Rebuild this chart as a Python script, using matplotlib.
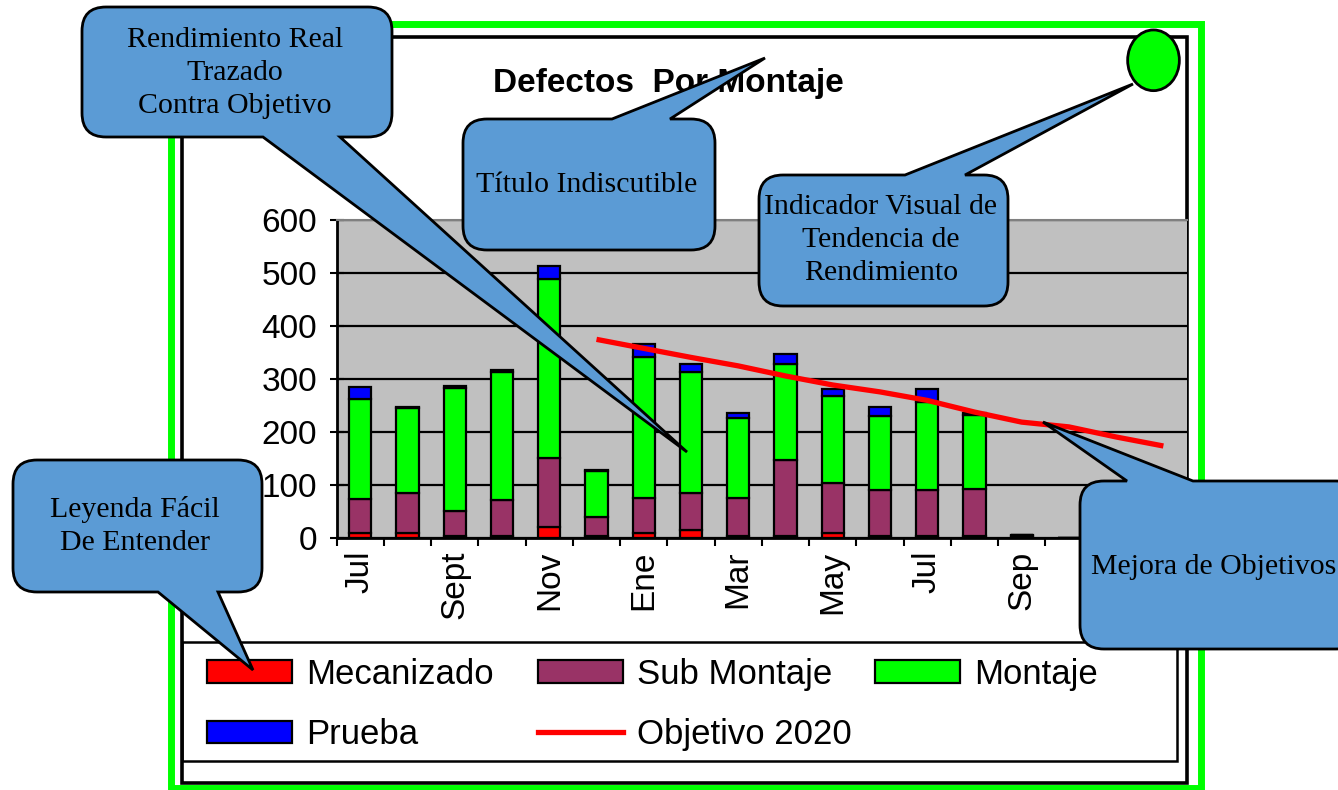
import numpy as np
import matplotlib
matplotlib.use("Agg")
import matplotlib.pyplot as plt
from matplotlib.path import Path
from matplotlib.patches import PathPatch, Rectangle, Ellipse, Patch
from matplotlib.lines import Line2D
from matplotlib.transforms import Affine2D

plt.rcParams['font.family'] = ['Liberation Sans', 'DejaVu Sans']

# ---------------- data ----------------
months = ['Jul', 'Ago', 'Sept', 'Oct', 'Nov', 'Dic', 'Ene', 'Feb', 'Mar', 'Abr',
          'May', 'Jun', 'Jul', 'Ago', 'Sep', 'Oct', 'Nov', 'Dic']
mecanizado = [10, 10, 5, 5, 21, 5, 10, 15, 5, 5, 10, 5, 5, 5, 4, 0, 0, 0]
sub_montaje = [65, 75, 46, 67, 131, 36, 66, 70, 71, 142, 95, 86, 86, 87, 2, 0, 0, 0]
montaje = [187, 161, 233, 242, 336, 85, 266, 229, 151, 181, 163, 140, 166, 140, 1, 0, 0, 0]
prueba = [23, 2, 3, 4, 25, 2, 25, 14, 10, 20, 14, 16, 25, 5, 0, 0, 0, 0]
objetivo = [np.nan, np.nan, np.nan, np.nan, np.nan, 375, 358, 341, 325, 306, 289,
            276, 260, 238, 219, 210, 191, 174]
y_ticks = [0, 100, 200, 300, 400, 500, 600]
shown_label_idx = [0, 2, 4, 6, 8, 10, 12, 14]

series_names = ['Mecanizado', 'Sub Montaje', 'Montaje', 'Prueba']
series_colors = ['#FF0000', '#993366', '#00FF00', '#0000FF']

W, H = 1338, 790
fig = plt.figure(figsize=(W / 100, H / 100), dpi=100)
fig.patch.set_facecolor('white')
PX = Affine2D().scale(1 / 100, -1 / 100).translate(0, H / 100) + fig.dpi_scale_trans

# frames
fig.add_artist(Rectangle((171, 23.5), 1029.5, 764.5, transform=PX, fill=False,
                         edgecolor='#00FF00', lw=5, zorder=-2))
fig.add_artist(Rectangle((182, 37), 1005, 746, transform=PX, fill=False,
                         edgecolor='black', lw=2.6, zorder=-1))
fig.add_artist(Rectangle((182, 642), 995, 119, transform=PX, fill=False,
                         edgecolor='black', lw=1.8, zorder=1))

# ---------------- axes ----------------
ax = fig.add_axes([336.7 / W, 1 - 538.3 / H, (1187 - 336.7) / W, (538.3 - 220) / H])
ax.set_facecolor('#C0C0C0')
x = np.arange(len(months))
bottom = np.zeros(len(months))
for vals, col in zip([mecanizado, sub_montaje, montaje, prueba], series_colors):
    v = np.array(vals, dtype=float)
    ax.bar(x, v, width=0.47, bottom=bottom, color=col, edgecolor='black',
           linewidth=1.6, zorder=3)
    bottom += v
ax.plot(x, objetivo, color='#FF0000', lw=3.8, zorder=4, solid_capstyle='butt')

ax.set_xlim(-0.5, len(months) - 0.5)
ax.set_ylim(0, 600)
ax.set_yticks(y_ticks)
ax.yaxis.grid(True, color='black', lw=1.6, zorder=1)
ax.set_axisbelow(True)
ax.tick_params(axis='y', direction='inout', length=10, width=1.5, pad=9,
               labelsize=24, colors='black')
ax.set_xticks(np.arange(-0.5, len(months), 1.0))
ax.set_xticklabels([])
ax.tick_params(axis='x', which='major', direction='out', length=6, width=1.5)
ax.set_xticks([x[i] for i in shown_label_idx], minor=True)
ax.set_xticklabels([months[i] for i in shown_label_idx], minor=True, rotation=90)
ax.tick_params(axis='x', which='minor', length=0, pad=9, labelsize=24)
for s in ['left', 'bottom']:
    ax.spines[s].set_color('black')
    ax.spines[s].set_linewidth(2)
ax.spines['top'].set_color('#808080')
ax.spines['top'].set_linewidth(1.5)
ax.spines['right'].set_visible(False)

# title
fig.text(668 / W, 1 - 91.7 / H, 'Defectos  Por Montaje', ha='center', va='baseline',
         fontsize=24, fontweight='bold', zorder=3)

# ---------------- legend ----------------
hnd = [Patch(facecolor=c, edgecolor='black', lw=1.6) for c in series_colors]
hline = Line2D([], [], color='#FF0000', lw=3.8)
leg_kw = dict(loc='upper left', frameon=False, borderpad=0, borderaxespad=0,
              handlelength=2.45, handleheight=0.63, handletextpad=0.4,
              labelspacing=0.78, fontsize=25)
top_y = 1 - 658 / H
fig.legend([hnd[0], hnd[3]], [series_names[0], series_names[3]],
           bbox_to_anchor=(207 / W, top_y), **leg_kw)
fig.legend([hnd[1], hline], [series_names[1], 'Objetivo 2020'],
           bbox_to_anchor=(538 / W, top_y), **leg_kw)
fig.legend([hnd[2]], [series_names[2]],
           bbox_to_anchor=(875 / W, top_y), **leg_kw)


# ---------------- callouts ----------------
def callout_path(x0, y0, x1, y1, r, side, b0, b1, tip):
    verts, codes = [], []

    def add(p, c):
        verts.append(p)
        codes.append(c)
    L, C = Path.LINETO, Path.CURVE3
    add((x0 + r, y0), Path.MOVETO)
    if side == 'top':
        add((b0, y0), L); add(tip, L); add((b1, y0), L)
    add((x1 - r, y0), L)
    add((x1, y0), C); add((x1, y0 + r), C)
    add((x1, y1 - r), L)
    add((x1, y1), C); add((x1 - r, y1), C)
    if side == 'bottom':
        add((b1, y1), L); add(tip, L); add((b0, y1), L)
    add((x0 + r, y1), L)
    add((x0, y1), C); add((x0, y1 - r), C)
    add((x0, y0 + r), L)
    add((x0, y0), C); add((x0 + r, y0), C)
    add((x0 + r, y0), Path.CLOSEPOLY)
    return Path(verts, codes)


callouts = [
    ((82, 7, 392, 137), 'bottom', 263, 340, (687, 452),
     'Rendimiento Real\nTrazado\nContra Objetivo', (235, 73)),
    ((463, 119, 715, 250), 'top', 612, 670, (765, 58),
     'Título Indiscutible', (587, 185)),
    ((759, 175, 1008, 306), 'top', 905, 965, (1133, 84),
     'Indicador Visual de\nTendencia de\nRendimiento', (881, 240)),
    ((13, 460, 262, 592), 'bottom', 158, 218, (253, 670),
     'Leyenda Fácil\nDe Entender', (135, 526)),
    ((1080, 481, 1360, 649), 'top', 1127, 1193, (1043, 422),
     'Mejora de Objetivos', (1214, 567)),
]
for (x0, y0, x1, y1), side, b0, b1, tip, txt, (tx, ty) in callouts:
    p = callout_path(x0, y0, x1, y1, 24, side, b0, b1, tip)
    fig.add_artist(PathPatch(p, transform=PX, facecolor='#5B9BD5',
                             edgecolor='black', lw=2, zorder=10))
    fig.text(tx / W, 1 - ty / H, txt, ha='center', va='center', fontsize=21.5,
             family=['Liberation Serif', 'DejaVu Serif'], linespacing=1.36,
             zorder=11)

fig.add_artist(Ellipse((1153.5, 60.3), 51.7, 60.7, transform=PX,
                       facecolor='#00FF00', edgecolor='black', lw=2, zorder=10))

fig.savefig('out.png', dpi=100)
